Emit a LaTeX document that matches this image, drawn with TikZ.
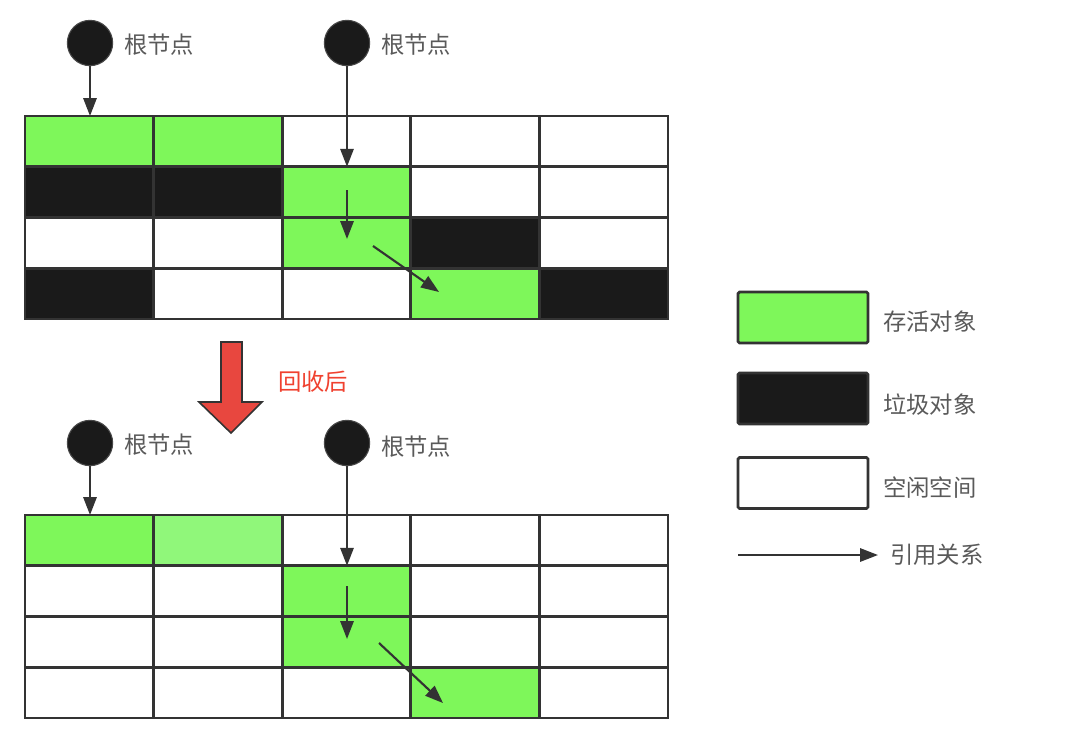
\documentclass[tikz,border=0pt]{standalone}
\usepackage{fontspec}
\newfontfamily\cjk{Noto Sans CJK SC}
\usetikzlibrary{arrows.meta,calc}
\definecolor{cg}{HTML}{7EF75A}
\definecolor{ck}{HTML}{1A1A1A}
\definecolor{cw}{HTML}{FFFFFF}
\definecolor{cl}{HTML}{90F77A}
\definecolor{lineg}{HTML}{333333}
\definecolor{txtg}{HTML}{5A5A5A}
\definecolor{redf}{HTML}{E8473F}
\definecolor{redt}{HTML}{F0412F}
\tikzset{
  cell/.style={draw=lineg, line width=2.2pt, minimum width=96.45pt, minimum height=38.06pt, inner sep=0pt, outer sep=0pt},
  legbox/.style={draw=lineg, line width=2pt, rounded corners=1.2pt, minimum width=97.5pt, minimum height=38.25pt, inner sep=0pt},
  rootnode/.style={circle, fill=ck, draw=ck!80, line width=0.8pt, minimum size=34pt, inner sep=0pt},
  ref/.style={draw=lineg, line width=1.6pt, -{Triangle[length=13.5pt,width=10pt]}},
  lbl/.style={font=\cjk\fontsize{17.5pt}{20pt}\selectfont, text=txtg, inner sep=0pt, anchor=west},
}
\begin{document}
\begin{tikzpicture}[x=0.75pt,y=-0.75pt]
\path[use as bounding box, fill=white] (0,0) rectangle (1080,739);
% top grid
\foreach \row [count=\r] in {{g,g,w,w,w},{k,k,g,w,w},{w,w,g,k,w},{k,w,w,g,k}} {
  \foreach \c [count=\col] in \row {
    \node[cell, fill=c\c] (t\r\col) at ({25+(\col-0.5)*128.6}, {116+(\r-0.5)*50.75}) {};
  }
}
% bottom grid
\foreach \row [count=\r] in {{g,l,w,w,w},{w,w,g,w,w},{w,w,g,w,w},{w,w,w,g,w}} {
  \foreach \c [count=\col] in \row {
    \node[cell, fill=c\c] (b\r\col) at ({25+(\col-0.5)*128.6}, {515+(\r-0.5)*50.75}) {};
  }
}
% roots top
\node[rootnode] (r1) at (90,43) {};
\node[rootnode] (r2) at (347,43) {};
\node[lbl] (r1l) at (124,45) {根节点};
\node[lbl] (r2l) at (381,45) {根节点};
\draw[ref] (r1.south) -- (r1.south |- t11.north);
\draw[ref] (r2.south) -- (r2.south |- t13.south);
\coordinate (ta1) at (347,190);
\coordinate (ta2) at (347,239);
\draw[ref] (ta1) -- (ta2);
\coordinate (td1) at (373,246);
\coordinate (td2) at (439,292);
\draw[ref] (td1) -- (td2);
% roots bottom
\node[rootnode] (r3) at (90,443) {};
\node[rootnode] (r4) at (347,443) {};
\node[lbl] (r3l) at (124,445) {根节点};
\node[lbl] (r4l) at (381,447) {根节点};
\draw[ref] (r3.south) -- (r3.south |- b11.north);
\draw[ref] (r4.south) -- (r4.south |- b13.south);
\coordinate (ba1) at (347,586);
\coordinate (ba2) at (347,639);
\draw[ref] (ba1) -- (ba2);
\coordinate (bd1) at (379,643);
\coordinate (bd2) at (443,703);
\draw[ref] (bd1) -- (bd2);
% red arrow
\draw[fill=redf, draw=lineg, line width=1.2pt, line join=miter]
  (221,342) -- (242,342) -- (242,402) -- (262,402) -- (231,433) -- (199,402) -- (221,402) -- cycle;
\node[lbl, text=redt] (rt) at (278,382) {回收后};
% legend
\node[legbox, fill=cg] (lg) at (803,317.5) {};
\node[legbox, fill=ck] (lk) at (803,398.5) {};
\node[legbox, fill=cw] (lw) at (803,483) {};
\node[lbl] (lgt) at (883,322) {存活对象};
\node[lbl] (lkt) at (883,405) {垃圾对象};
\node[lbl] (lwt) at (883,488) {空闲空间};
\coordinate (la1) at (738,555);
\coordinate (la2) at (878,555);
\draw[ref] (la1) -- (la2);
\node[lbl] (lat) at (890,555) {引用关系};
\end{tikzpicture}
\end{document}
